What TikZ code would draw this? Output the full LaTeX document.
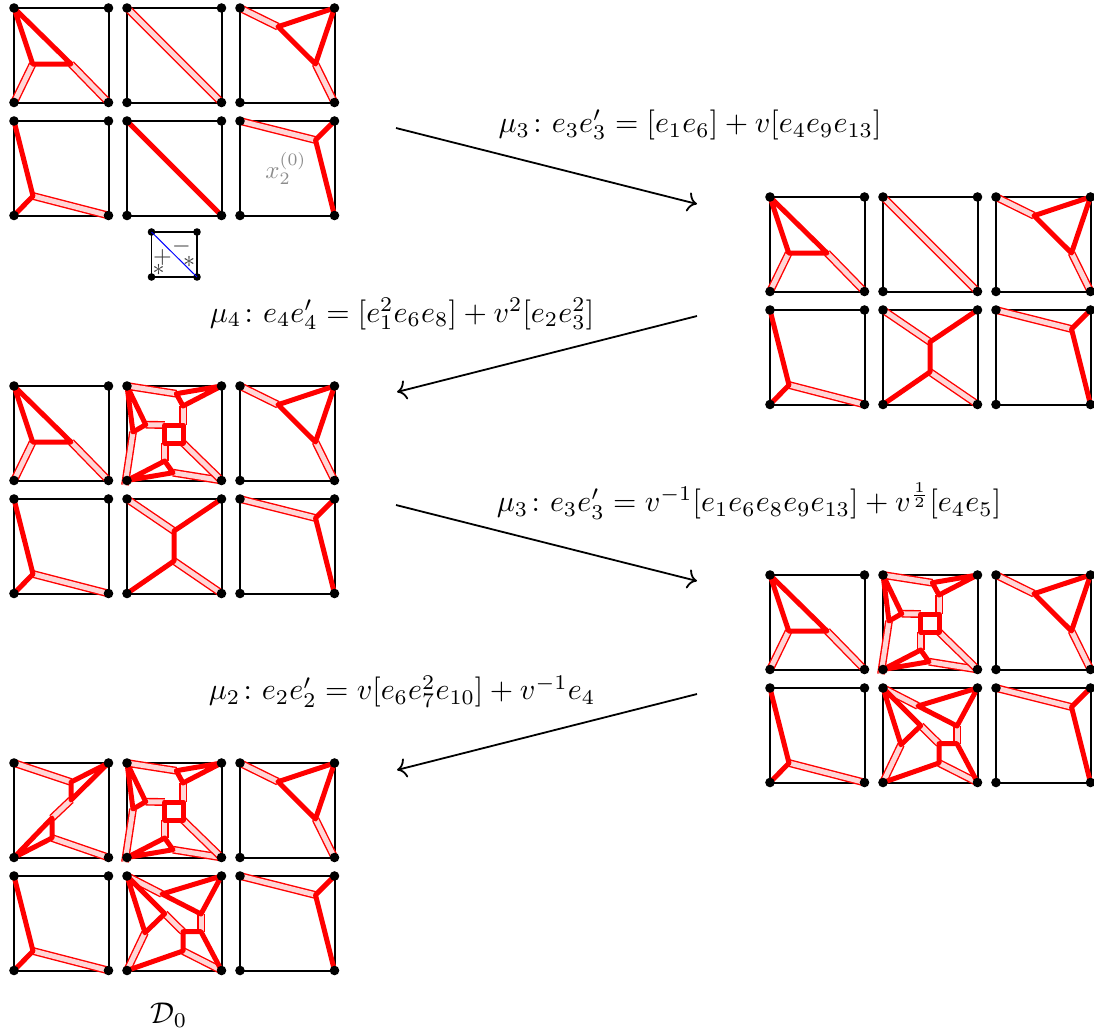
\documentclass[tikz,border=0pt]{standalone}
\usepackage{xcolor}
\usepackage{tikz}
\usetikzlibrary{positioning, calc, arrows.meta}
\usepackage{amsmath,amssymb}
\definecolor{webRed}{HTML}{FF0000}
\definecolor{webPink}{HTML}{FFD6D6}
\definecolor{signGray}{HTML}{383838}

% === Panel contents (local pixels, y grows downwards) ===
\newcommand{\webTriLeft}{
  \draw[dedge] (18.7,56) -- (0,94.5);
  \draw[dedge] (57,56) -- (94.5,94.5);
  \draw[sedge] (0,0) -- (18.7,56) -- (57,56) -- cycle;
}
\newcommand{\webDiagDouble}{
  \draw[dedge] (0,0) -- (94.5,94.5);
}
\newcommand{\webTriRight}{
  \draw[dedge] (0,0) -- (38,18.7);
  \draw[dedge] (75.5,56) -- (94.5,94.5);
  \draw[sedge] (94.5,0) -- (38,18.7) -- (75.5,56) -- cycle;
}
\newcommand{\webForkLeft}{
  \draw[dedge] (19,75) -- (94.5,94.5);
  \draw[sedge] (0,0) -- (19,75) -- (0,94.5);
}
\newcommand{\webDiagSolid}{
  \draw[sedge] (0,0) -- (94.5,94.5);
}
\newcommand{\webForkRight}{
  \draw[dedge] (0,0) -- (75.5,19);
  \draw[sedge] (94.5,0) -- (75.5,19) -- (94.5,94.5);
}
\newcommand{\webBridge}{
  \draw[dedge] (0,0) -- (47,32);
  \draw[dedge] (47,62) -- (94.5,94.5);
  \draw[sedge] (94.5,0) -- (47,32) -- (47,62) -- (0,94.5);
}
\newcommand{\webSquare}{
  \draw[dedge] (0,0) -- (49.3,7.7);
  \draw[dedge] (56,20) -- (56,39);
  \draw[dedge] (37.7,39) -- (18.7,38.7);
  \draw[dedge] (6,46) -- (-2,99);
  \draw[dedge] (37.7,57) -- (37.7,75);
  \draw[dedge] (46,86.7) -- (94.5,94.5);
  \draw[dedge] (56,57) -- (94.5,94.5);
  \draw[sedge] (94.5,0) -- (49.3,7.7) -- (56,20) -- cycle;
  \draw[sedge] (0,0) -- (18.7,38.7) -- (6,46) -- cycle;
  \draw[sedge] (0,94.5) -- (37.7,75) -- (46,86.7) -- cycle;
  \draw[sedge] (37.7,39) rectangle (56,57);
}
\newcommand{\webKite}{
  \draw[dedge] (0,0) -- (35,18);
  \draw[dedge] (74,38) -- (74,55.7);
  \draw[dedge] (56,75) -- (94.5,94.5);
  \draw[dedge] (56,55.7) -- (37.7,37.7);
  \draw[dedge] (18,56.7) -- (0,94.5);
  \draw[sedge] (94.5,0) -- (35,18) -- (74,38) -- cycle;
  \draw[sedge] (0,0) -- (37.7,37.7) -- (18,56.7) -- cycle;
  \draw[sedge] (94.5,94.5) -- (74,55.7) -- (56,55.7) -- (56,75) -- (0,94.5);
}
\newcommand{\webStair}{
  \draw[dedge] (0,0) -- (57,19);
  \draw[dedge] (57,37) -- (38,55);
  \draw[dedge] (38,75) -- (94.5,94.5);
  \draw[sedge] (94.5,0) -- (57,19) -- (57,37) -- cycle;
  \draw[sedge] (0,94.5) -- (38,55) -- (38,75) -- cycle;
}

% one square with its web, then its corners
\newcommand{\panel}[3]{
  \begin{scope}[shift={(#1,#2)}]
    \draw[frame] (0,0) rectangle (94.5,94.5);
    #3
    \foreach \cx/\cy in {0/0, 94.5/0, 0/94.5, 94.5/94.5}
      \fill (\cx,\cy) circle[radius=4.8];
  \end{scope}
}
% two rows of three squares
\newcommand{\panelblock}[8]{
  \panel{#1}{#2}{#3}
  \panel{#1+113}{#2}{#4}
  \panel{#1+226}{#2}{#5}
  \panel{#1}{#2+113}{#6}
  \panel{#1+113}{#2+113}{#7}
  \panel{#1+226}{#2+113}{#8}
}

\begin{document}
\begin{tikzpicture}[
  x=0.5pt, y=-0.5pt,
  frame/.style={black, line width=1pt},
  sedge/.style={webRed, line width=2.5pt, line join=round},
  dedge/.style={webRed, line width=0.7pt, double=webPink, double distance=2.5pt},
  mutarrow/.style={-{To[scale=1.3]}, black, line width=0.9pt},
  mutlabel/.style={scale=1.5, inner sep=0pt},
  signlabel/.style={text=signGray, scale=1.2, inner sep=0pt},
]
\useasboundingbox (0,0) rectangle (1094,1029);

% === BLOCKS ===
\panelblock{14}{8}{\webTriLeft}{\webDiagDouble}{\webTriRight}{\webForkLeft}{\webDiagSolid}{\webForkRight}
\panelblock{770}{197}{\webTriLeft}{\webDiagDouble}{\webTriRight}{\webForkLeft}{\webBridge}{\webForkRight}
\panelblock{14}{386}{\webTriLeft}{\webSquare}{\webTriRight}{\webForkLeft}{\webBridge}{\webForkRight}
\panelblock{770}{575}{\webTriLeft}{\webSquare}{\webTriRight}{\webForkLeft}{\webKite}{\webForkRight}
\panelblock{14}{763}{\webStair}{\webSquare}{\webTriRight}{\webForkLeft}{\webKite}{\webForkRight}

\node[text=black!45, scale=1.25, inner sep=0pt] (clusterx) at (286,168.5) {$x_2^{(0)}$};
\node[mutlabel] (stage) at (169,1015) {$\mathcal{D}_0$};

% === Small triangulated square ===
\draw[line width=0.75pt] (151.5,232) rectangle (197,277);
\foreach \cx/\cy in {151.5/232, 197/232, 151.5/277, 197/277}
  \fill (\cx,\cy) circle[radius=3.8];
\draw[blue, line width=0.5pt] (151.5,232) -- (197,277);
\node[signlabel] (plus) at (162.5,257.5) {$+$};
\node[signlabel] (minus) at (181.5,246.5) {$-$};
\node[signlabel] (starl) at (158.5,270) {$*$};
\node[signlabel] (starr) at (189,262) {$*$};

% === Mutation arrows ===
\coordinate (outa) at (396,128);
\coordinate (ina) at (697,204);
\coordinate (outb) at (697,316);
\coordinate (inb) at (397,392);
\coordinate (outc) at (396,505);
\coordinate (inc) at (697,581);
\coordinate (outd) at (697,694);
\coordinate (ind) at (397,770);
\draw[mutarrow] (outa) -- (ina);
\draw[mutarrow] (outb) -- (inb);
\draw[mutarrow] (outc) -- (inc);
\draw[mutarrow] (outd) -- (ind);

% === Labels ===
\node[mutlabel] (laba) at (690,125) {$\mu_3\colon e_3e_3'=[e_1e_6]+v[e_4e_9e_{13}]$};
\node[mutlabel] (labb) at (402,314) {$\mu_4\colon e_4e_4'=[e_1^2e_6e_8]+v^2[e_2e_3^2]$};
\node[mutlabel] (labc) at (749,501) {$\mu_3\colon e_3e_3'=v^{-1}[e_1e_6e_8e_9e_{13}]+v^{\frac{1}{2}}[e_4e_5]$};
\node[mutlabel] (labd) at (402,691.5) {$\mu_2\colon e_2e_2'=v[e_6e_7^2e_{10}]+v^{-1}e_4$};
\end{tikzpicture}
\end{document}
